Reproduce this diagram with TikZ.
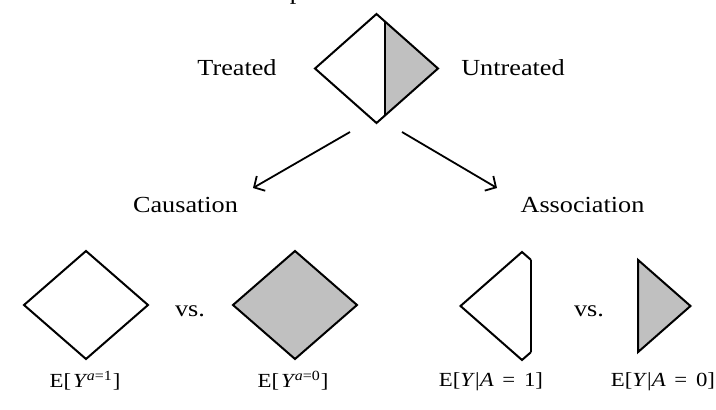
\documentclass[tikz,border=0pt]{standalone}
\usepackage{fontspec}
\setmainfont{Liberation Serif}[FakeStretch=1.14]
\usetikzlibrary{arrows.meta}
\definecolor{grayfill}{RGB}{192,192,192}
\begin{document}
\begin{tikzpicture}[x=1pt,y=-1pt,
  outline/.style={line width=2pt, line join=miter},
  thinline/.style={line width=1.3pt},
  lbl/.style={font=\fontsize{23}{27}\selectfont, anchor=base, inner sep=0pt},
  elbl/.style={font=\fontsize{20}{24}\selectfont, anchor=base, inner sep=0pt},
  conn/.style={line width=1.8pt, -{Straight Barb[length=8pt,width=17pt,line width=1.8pt]}}]
\useasboundingbox (0,0) rectangle (716,410);
\clip (0,0) rectangle (716,410);

% top title (cut off at the top edge, as in the reference)
\node[lbl] (title) at (375,-0.5) {Population of interest};

% top diamond, half shaded
\fill[grayfill] (385,21.5) -- (438,68.5) -- (385,115.5) -- cycle;
\draw[thinline] (385,21.5) -- (385,115.5);
\draw[outline] (376.5,14) -- (438,68.5) -- (376.5,123) -- (315,68.5) -- cycle;
\node[lbl] (treated) at (237,75) {Treated};
\node[lbl] (untreated) at (513,75) {Untreated};

% arrows
\coordinate (s1) at (350,132);
\coordinate (e1) at (253,188);
\coordinate (s2) at (402,132);
\coordinate (e2) at (497,188);
\draw[conn] (s1) -- (e1);
\draw[conn] (s2) -- (e2);

\node[lbl] (causation) at (185.5,212) {Causation};
\node[lbl] (association) at (582.5,212) {Association};

% causation diamonds
\draw[outline] (86,251) -- (148,305) -- (86,359) -- (24,305) -- cycle;
\draw[outline, fill=grayfill] (295,251) -- (357,305) -- (295,359) -- (233,305) -- cycle;
\node[lbl] (vs1) at (190,316) {vs.};

% association shapes
\draw[outline] (531,259.9) -- (522,252) -- (460.5,306) -- (522,360) -- (531,352.1);
\draw[thinline] (531,259.9) -- (531,352.1);
\draw[outline, fill=grayfill] (638,259.9) -- (690.5,306) -- (638,352.1) -- cycle;
\node[lbl] (vs2) at (589,316) {vs.};

% formula labels
\node[elbl] (ey1) at (85,387) {E[\hspace{2pt}\textit{Y}\hspace{-1pt}\raisebox{7pt}{\fontsize{14}{14}\selectfont\textit{a}=1}\hspace{1pt}]};
\node[elbl] (ey0) at (293,387) {E[\hspace{2pt}\textit{Y}\hspace{-1pt}\raisebox{7pt}{\fontsize{14}{14}\selectfont\textit{a}=0}\hspace{1pt}]};
\node[elbl] (ea1) at (491,386) {E[\textit{Y}|\textit{A}\hspace{3pt} = \hspace{3pt}1]};
\node[elbl] (ea0) at (663,386) {E[\textit{Y}|\textit{A}\hspace{3pt} = \hspace{3pt}0]};
\end{tikzpicture}
\end{document}
